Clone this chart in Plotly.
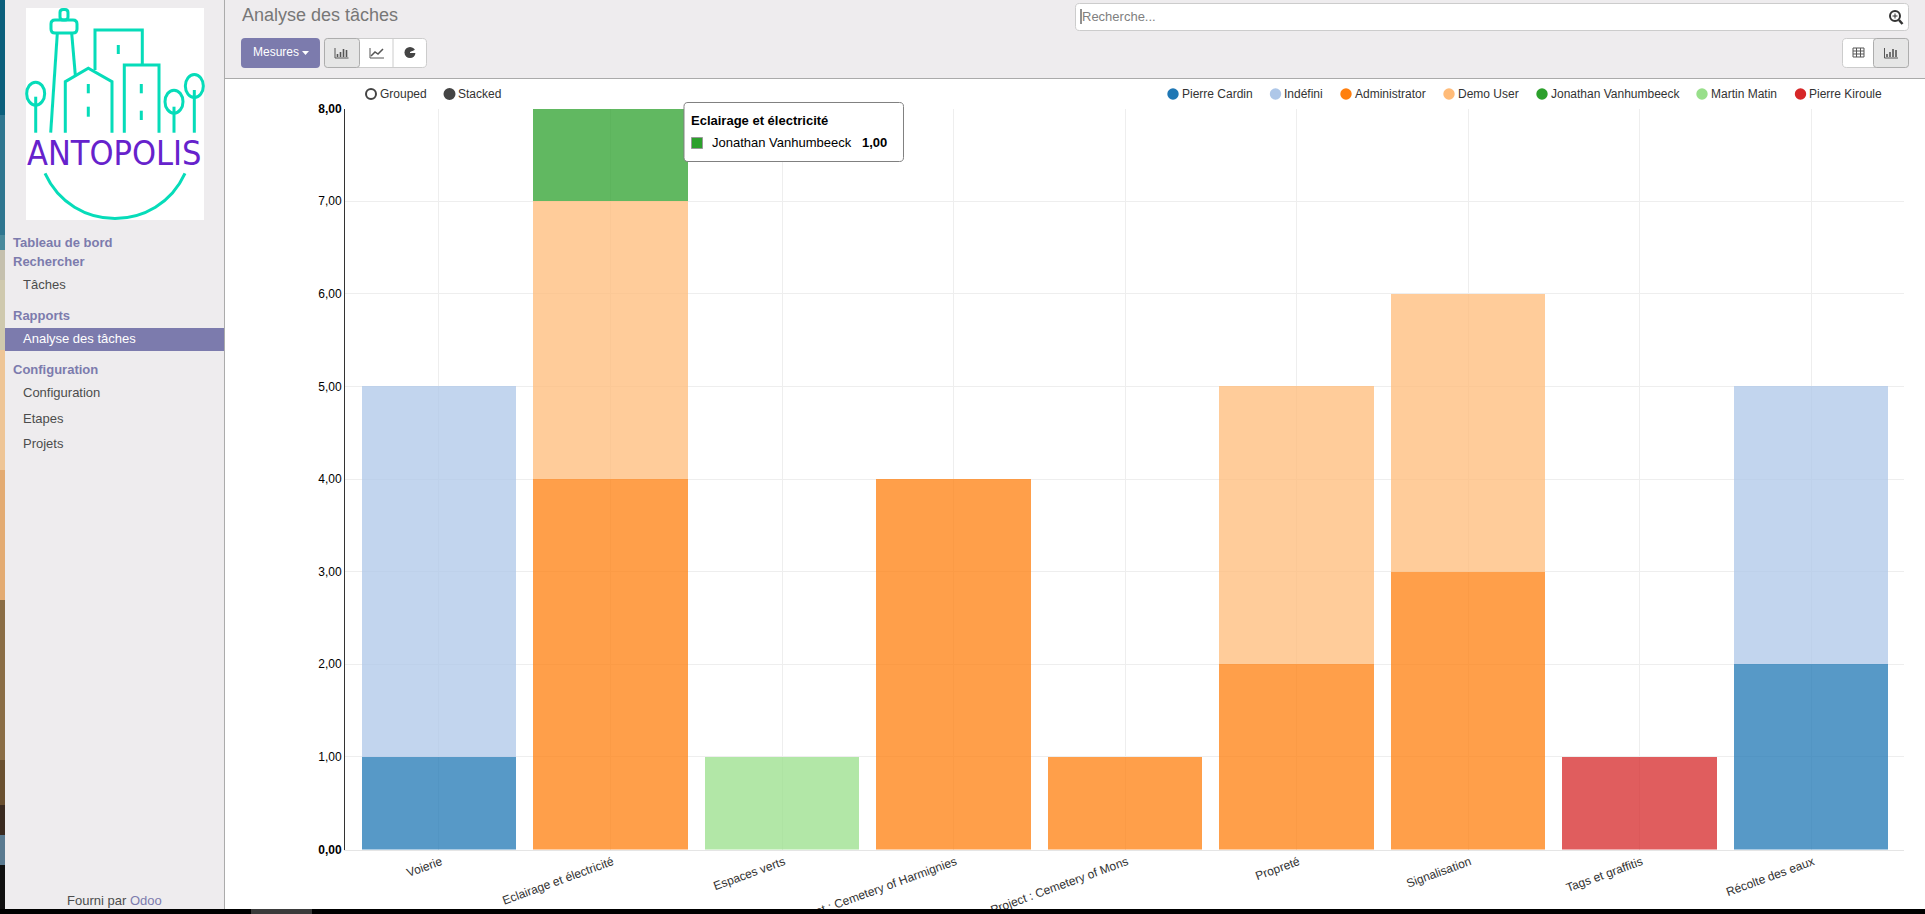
import re
import plotly.graph_objects as go

W, H = 1925, 914
FONT = "Liberation Sans"
PURPLE = "#7c7bad"
SIDEBAR = "#eeecee"
TEAL = "#06dcb9"

categories = ["Voierie", "Eclairage et électricité", "Espaces verts",
              "Project : Cemetery of Harmignies", "Project : Cemetery of Mons",
              "Propreté", "Signalisation", "Tags et graffitis", "Récolte des eaux"]

names = ["Pierre Cardin", "Indéfini", "Administrator", "Demo User",
         "Jonathan Vanhumbeeck", "Martin Matin", "Pierre Kiroule"]
colors = ["#1f77b4", "#aec7e8", "#ff7f0e", "#ffbb78", "#2ca02c", "#98df8a", "#d62728"]

pierre_cardin = [1, 0, 0, 0, 0, 0, 0, 0, 2]
indefini = [4, 0, 0, 0, 0, 0, 0, 0, 3]
administrator = [0, 4, 0, 4, 1, 2, 3, 0, 0]
demo_user = [0, 3, 0, 0, 0, 3, 3, 0, 0]
jonathan = [0, 1, 0, 0, 0, 0, 0, 0, 0]
martin = [0, 0, 1, 0, 0, 0, 0, 0, 0]
kiroule = [0, 0, 0, 0, 0, 0, 0, 1, 0]
series = [pierre_cardin, indefini, administrator, demo_user, jonathan, martin, kiroule]

y_ticks = [0, 1, 2, 3, 4, 5, 6, 7, 8]
y_labels = ["<b>0,00</b>", "1,00", "2,00", "3,00", "4,00", "5,00", "6,00", "7,00", "<b>8,00</b>"]

# left edge of the window: bit of desktop photo showing behind the page
strip_y = [0, 115, 235, 250, 280, 350, 470, 600, 760, 805, 835, 865, 914]
strip_colors = ["#0b5f7c", "#2f7690", "#4a8a9c", "#c5c0ae", "#cfc9ae", "#eec596", "#e3ab72",
                "#8a6d45", "#6a5030", "#3a2a20", "#5a7a90", "#101010"]


def X(v):
    return v / W


def Y(v):
    return 1 - v / H


def conv(path):
    # path written in screen pixels -> paper coords
    nums = iter(range(10000))

    def sub(m):
        v = float(m.group(0))
        return f"{X(v) if next(nums) % 2 == 0 else Y(v):.5f}"
    return re.sub(r"-?\d+\.?\d*", sub, path)


shapes = []
notes = []


def path(d, line=None, width=0, fill=None):
    s = dict(type="path", xref="paper", yref="paper", path=conv(d),
             line=dict(color=line or "rgba(0,0,0,0)", width=width))
    if fill:
        s["fillcolor"] = fill
    shapes.append(s)


def rect(x0, y0, x1, y1, fill, line=None, width=0):
    shapes.append(dict(type="rect", xref="paper", yref="paper", x0=X(x0), x1=X(x1), y0=Y(y0), y1=Y(y1),
                       fillcolor=fill, line=dict(color=line or "rgba(0,0,0,0)", width=width)))


def circle(cx, cy, rx, ry, fill=None, line=None, width=0):
    shapes.append(dict(type="circle", xref="paper", yref="paper", x0=X(cx - rx), x1=X(cx + rx),
                       y0=Y(cy - ry), y1=Y(cy + ry), fillcolor=fill or "rgba(0,0,0,0)",
                       line=dict(color=line or "rgba(0,0,0,0)", width=width)))


def rounded(x0, y0, x1, y1, r, fill=None, line=None, width=0):
    d = (f"M {x0 + r} {y0} L {x1 - r} {y0} Q {x1} {y0} {x1} {y0 + r} L {x1} {y1 - r} Q {x1} {y1} {x1 - r} {y1} "
         f"L {x0 + r} {y1} Q {x0} {y1} {x0} {y1 - r} L {x0} {y0 + r} Q {x0} {y0} {x0 + r} {y0} Z")
    path(d, line, width, fill)


def text(x, y, s, size=12, color="#333", anchor="left", family=FONT):
    notes.append(dict(xref="paper", yref="paper", x=X(x), y=Y(y), text=s, showarrow=False,
                      xanchor=anchor, yanchor="middle", align=anchor, borderpad=0,
                      font=dict(family=family, size=size, color=color)))


def icon_bars(cx, cy, c="#555"):
    path(f"M {cx-6.5} {cy-5} L {cx-6.5} {cy+5} L {cx+7} {cy+5}", c, 1)
    for dx, h in [(-4, 3), (-1, 5), (2, 8), (5, 7)]:
        rect(cx + dx - 0.8, cy + 4 - h, cx + dx + 0.8, cy + 4, c)


def logo():
    rect(26, 8, 204, 220, "#ffffff")
    z = 1 / 3

    def L(*pts):
        d = "M " + " L ".join(f"{a * z:.1f} {b * z:.1f}" for a, b in pts)
        path(d, TEAL, 3)
    rounded(60, 9.5, 68, 20, 3, None, TEAL, 3)
    rounded(51, 20, 77, 33, 4, None, TEAL, 3)
    L((172, 100), (152, 398))
    L((215, 100), (226, 225))
    L((285, 210), (285, 90), (427, 90), (427, 192))
    L((355, 135), (355, 162))
    L((373, 398), (373, 195), (477, 195), (477, 398))
    L((424, 252), (424, 280))
    L((424, 332), (424, 360))
    L((196, 398), (196, 245), (265, 205), (336, 245), (336, 398))
    L((265, 252), (265, 280))
    L((265, 320), (265, 350))
    for cx, cy, top in [(107, 281, 290), (522, 305, 320), (583, 258, 270)]:
        circle(cx * z, cy * z, 9, 11.5, None, TEAL, 3)
        L((cx, top), (cx, 398))
    path("M 45 173.5 C 72.4 233.6 157.6 233.6 185 173.5", TEAL, 3)
    text(114.5, 153, "ANTOPOLIS", 34, "#6622cc", "center", "DejaVu Sans Condensed, DejaVu Sans")


def chrome():
    # page background
    rect(5, 0, 224, 909, SIDEBAR)
    rect(224, 0, W, 78, SIDEBAR)
    for i, c in enumerate(strip_colors):
        rect(0, strip_y[i], 5, strip_y[i + 1], c)
    path("M 224.5 0 L 224.5 909", "#aaaaaa", 1)
    path("M 224 78.5 L 1925 78.5", "#aaaaaa", 1)
    rect(0, 909, W, H, "#000000")
    rect(251, 909, 312, H, "#3b3b3b")

    logo()

    # menu
    text(12, 243, "<b>Tableau de bord</b>", 13, PURPLE)
    text(12, 261, "<b>Rechercher</b>", 13, PURPLE)
    text(22, 285, "Tâches", 13, "#4c4c4c")
    text(12, 315, "<b>Rapports</b>", 13, PURPLE)
    rect(5, 328, 224, 351, PURPLE)
    text(22, 339, "Analyse des tâches", 13, "#ffffff")
    text(12, 369, "<b>Configuration</b>", 13, PURPLE)
    text(22, 393, "Configuration", 13, "#4c4c4c")
    text(22, 418, "Etapes", 13, "#4c4c4c")
    text(22, 443, "Projets", 13, "#4c4c4c")
    text(65.5, 900, "Fourni par <span style='color:#7c7bad'>Odoo</span>", 13, "#4c4c4c")

    # header
    text(241, 15, "Analyse des tâches", 18, "#777777")
    rounded(241, 38, 320, 68, 4, PURPLE)
    text(252, 52, "Mesures", 12, "#ffffff")
    path("M 302 51 L 309 51 L 305.5 55 Z", fill="#ffffff")

    rounded(324.5, 38.5, 426.5, 67.5, 4, "#ffffff", "#cccccc", 1)
    rounded(324.5, 38.5, 359.5, 67.5, 3, "#e6e6e6", "#adadad", 1)
    path("M 393 39 L 393 67", "#cccccc", 1)
    icon_bars(341.5, 53)
    path("M 370 48 L 370 58 L 384 58", "#555", 1)
    path("M 371 56 L 375 52 L 378 54 L 383 49", "#555", 1.5)
    circle(410, 52.5, 5.5, 5.5, "#444")
    path("M 410 52.5 L 416 50 L 416 52.5 Z", "#ffffff", 1, "#ffffff")

    rounded(1075.5, 3.5, 1908.5, 30.5, 4, "#ffffff", "#cccccc", 1)
    path("M 1081 9 L 1081 24", "#222", 1)
    text(1081, 16.5, "Recherche...", 13, "#808080")
    circle(1895, 16, 5, 5, None, "#333", 2)
    path("M 1899 20 L 1902.5 24", "#333", 2.5)
    path("M 1892.5 16 L 1897.5 16 M 1895 13.5 L 1895 18.5", "#333", 1)

    rounded(1842.5, 38.5, 1908.5, 67.5, 4, "#ffffff", "#cccccc", 1)
    rounded(1873.5, 38.5, 1908.5, 67.5, 3, "#e6e6e6", "#adadad", 1)
    for d in ["M 1853 48 L 1864 48 L 1864 57 L 1853 57 Z", "M 1853 51 L 1864 51", "M 1853 54 L 1864 54",
              "M 1856.5 48 L 1856.5 57", "M 1860.5 48 L 1860.5 57"]:
        path(d, "#555", 1)
    icon_bars(1891, 53)

    # grouped / stacked switch
    circle(371, 94, 5, 5, "#ffffff", "#444", 2)
    text(379, 94, "Grouped", 12, "#333")
    circle(449.5, 94, 6, 6, "#444", "#444", 0)
    text(457, 94, "Stacked", 12, "#333")


legend_dots = [1173, 1275.5, 1346, 1449, 1542, 1702, 1800.5]

chrome()

# legend along the top of the chart
for name, c, cx in zip(names, colors, legend_dots):
    circle(cx, 94, 5.7, 5.7, c)
    text(cx + 7.5, 94, name, 12, "#333")

# tooltip of the hovered bar
rounded(684, 102.5, 903.5, 161.5, 4, "#ffffff", "#808080", 1)
text(689.5, 120, "<b>" + categories[1] + "</b>", 13, "#000")
rect(691.5, 137.5, 702.5, 148.5, colors[4], "#999", 1)
text(711, 142, names[4], 13, "#000")
text(861, 142, "<b>" + y_labels[jonathan[1]] + "</b>", 13, "#000")

fig = go.Figure()
for name, c, vals in zip(names, colors, series):
    fig.add_bar(x=categories, y=vals, name=name, marker=dict(color=c, opacity=0.75, line_width=0))

fig.update_layout(
    width=W, height=H, autosize=False,
    margin=dict(l=0, r=0, t=0, b=0, pad=0),
    paper_bgcolor="#ffffff", plot_bgcolor="#ffffff",
    barmode="stack", bargap=0.1, showlegend=False,
    font=dict(family=FONT, size=12, color="#333"),
    shapes=shapes, annotations=notes,
    xaxis=dict(domain=[X(345), X(1904)], type="category", categoryorder="array", categoryarray=categories,
               range=[-0.548, 8.542], showgrid=True, gridcolor="#eeeeee", gridwidth=1, zeroline=False,
               showline=True, linecolor="#e5e5e5", ticks="", tickangle=-20, ticklabelshift=2, automargin=False),
    yaxis=dict(domain=[Y(849.5), Y(108.5)], range=[0, 8], tickvals=y_ticks, ticktext=y_labels,
               showgrid=True, gridcolor="#eeeeee", gridwidth=1, zeroline=False,
               showline=True, linecolor="#333333", linewidth=1, ticks="", automargin=False,
               tickfont=dict(color="#000", size=12)),
)

fig.write_html("out.html", config={"displayModeBar": False},
               post_script="document.body.style.margin='0';document.body.style.overflow='hidden';")
